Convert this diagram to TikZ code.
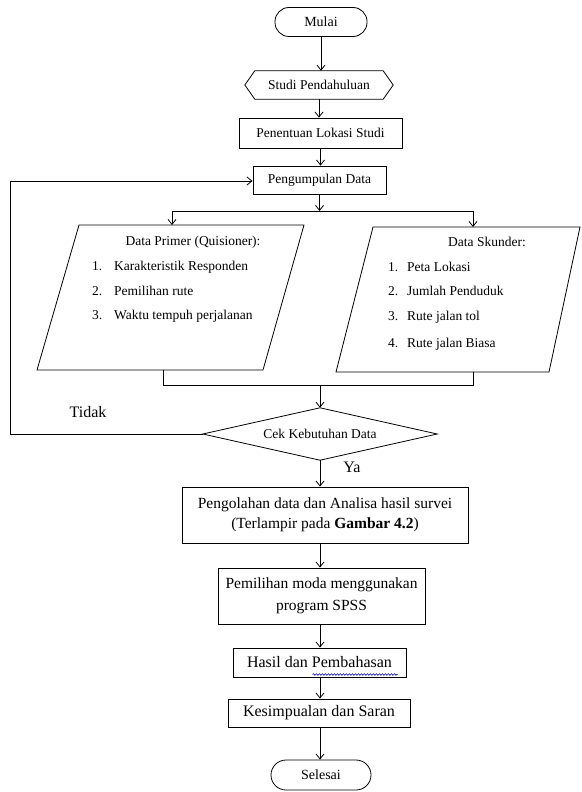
\documentclass[tikz,border=0pt]{standalone}
\usepackage{fontspec}
\setmainfont{Liberation Serif}
\usetikzlibrary{arrows.meta,shapes.geometric,decorations.pathmorphing,calc}
\begin{document}
\begin{tikzpicture}[x=1pt,y=-1pt,
  ln/.style={line width=0.8pt},
  arr/.style={ln,-{Straight Barb[length=5pt,width=8pt]}},
  boxnode/.style={draw,ln,inner sep=0pt,align=center},
  small/.style={font=\fontsize{13.5}{16}\selectfont},
  big/.style={font=\fontsize{15.5}{20}\selectfont},
  txt/.style={inner sep=0pt}]
\useasboundingbox (0,0) rectangle (581,792);
\fill[white] (0,0) rectangle (581,792);

% top chain
\node[boxnode,rounded corners=14pt,minimum width=92pt,minimum height=29pt,font=\fontsize{14}{16}\selectfont] (mulai) at (321,22) {Mulai};
\node[txt,small,minimum width=148pt,minimum height=28pt] (studi) at (319,85) {Studi Pendahuluan};
\draw[ln] (studi.west) -- ([xshift=10pt]studi.north west) -- ([xshift=-10pt]studi.north east)
  -- (studi.east) -- ([xshift=-10pt]studi.south east) -- ([xshift=10pt]studi.south west) -- cycle;
\node[boxnode,small,minimum width=163pt,minimum height=30pt] (lokasi) at (320.5,133) {Penentuan Lokasi Studi};
\node[boxnode,small,minimum width=133pt,minimum height=28pt] (kumpul) at (319.5,180) {Pengumpulan Data};

\draw[arr] (mulai.south) -- (mulai.south |- studi.north);
\draw[arr] (studi.south) -- (studi.south |- lokasi.north);
\draw[arr] (lokasi.south) -- (lokasi.south |- kumpul.north);

% split
\coordinate (split) at (319.5,211);
\coordinate (splitL) at (172,211);
\coordinate (splitR) at (473,211);
\draw[arr] (kumpul.south) -- (split);
\draw[ln] (splitL) -- (splitR);

% left parallelogram
\coordinate (pl1) at (79,225); \coordinate (pl2) at (304,225);
\coordinate (pl3) at (263,370); \coordinate (pl4) at (37,370);
\draw[ln] (pl1) -- (pl2) -- (pl3) -- (pl4) -- cycle;
\coordinate (plTop) at (172,225);
\coordinate (plBot) at (163,370);
\draw[arr] (splitL) -- (plTop);
\node[txt,small] (primT) at (193,242) {Data Primer (Quisioner):};
\node[txt,small,anchor=base west] (prim1) at (92,270) {\makebox[22pt][l]{1.}Karakteristik Responden};
\node[txt,small,anchor=base west] (prim2) at (92,295) {\makebox[22pt][l]{2.}Pemilihan rute};
\node[txt,small,anchor=base west] (prim3) at (92,319) {\makebox[22pt][l]{3.}Waktu tempuh perjalanan};

% right parallelogram
\coordinate (pr1) at (373,227); \coordinate (pr2) at (580,227);
\coordinate (pr3) at (549,372); \coordinate (pr4) at (336,372);
\draw[ln] (pr1) -- (pr2) -- (pr3) -- (pr4) -- cycle;
\coordinate (prTop) at (473,227);
\coordinate (prBot) at (473,372);
\draw[arr] (splitR) -- (prTop);
\node[txt,small] (skT) at (487,242) {Data Skunder:};
\node[txt,small,anchor=base west] (sk1) at (388,271) {\makebox[19pt][l]{1.}Peta Lokasi};
\node[txt,small,anchor=base west] (sk2) at (388,295) {\makebox[19pt][l]{2.}Jumlah Penduduk};
\node[txt,small,anchor=base west] (sk3) at (388,320) {\makebox[19pt][l]{3.}Rute jalan tol};
\node[txt,small,anchor=base west] (sk4) at (388,347) {\makebox[19pt][l]{4.}Rute jalan Biasa};

% merge
\coordinate (mergeL) at (163,385);
\coordinate (mergeR) at (473,385);
\coordinate (merge) at (320,385);
\draw[ln] (plBot) -- (mergeL) -- (mergeR) -- (prBot);

% decision
\node[txt,small,minimum width=234pt,minimum height=52pt] (cek) at (320,434) {Cek Kebutuhan Data};
\draw[ln] (cek.west) -- (cek.north) -- (cek.east) -- (cek.south) -- cycle;
\draw[arr] (merge) -- (cek.north);
\coordinate (loopB) at (10,434);
\coordinate (loopT) at (10,181);
\draw[arr] (cek.west) -- (loopB) -- (loopT) -- (kumpul.west |- loopT);
\node[txt,font=\fontsize{16}{18}\selectfont] (tidak) at (88,412) {Tidak};
\node[txt,font=\fontsize{16}{18}\selectfont] (ya) at (352,467) {Ya};

% lower chain
\node[boxnode,big,minimum width=286pt,minimum height=56pt] (olah) at (325,515)
  {Pengolahan data dan Analisa hasil survei\\(Terlampir pada \textbf{Gambar 4.2})};
\node[boxnode,font=\fontsize{15.5}{22}\selectfont,minimum width=207pt,minimum height=56pt] (moda) at (321.5,596)
  {Pemilihan moda menggunakan\\program SPSS};
\node[boxnode,font=\fontsize{16}{18}\selectfont,minimum width=173pt,minimum height=29pt] (hasil) at (319.5,662.5) {Hasil dan Pembahasan};
\node[boxnode,font=\fontsize{16}{18}\selectfont,minimum width=182pt,minimum height=28pt] (simpul) at (319,713) {Kesimpualan dan Saran};
\node[boxnode,rounded corners=15pt,minimum width=100pt,minimum height=30pt,font=\fontsize{14}{16}\selectfont] (selesai) at (321,775) {Selesai};

\draw[arr] (cek.south) -- (cek.south |- olah.north);
\draw[arr] (olah.south -| cek.south) -- (cek.south |- moda.north);
\draw[arr] (moda.south -| cek.south) -- (cek.south |- hasil.north);
\draw[arr] (hasil.south -| cek.south) -- (cek.south |- simpul.north);
\draw[arr] (simpul.south -| cek.south) -- (cek.south |- selesai.north);

% spelling squiggle under "Pembahasan"
\draw[blue!70!black,line width=0.6pt,decorate,decoration={snake,amplitude=0.8pt,segment length=3pt}]
  ($(hasil.center)+(-7,12)$) -- ($(hasil.center)+(78,12)$);
\end{tikzpicture}
\end{document}
